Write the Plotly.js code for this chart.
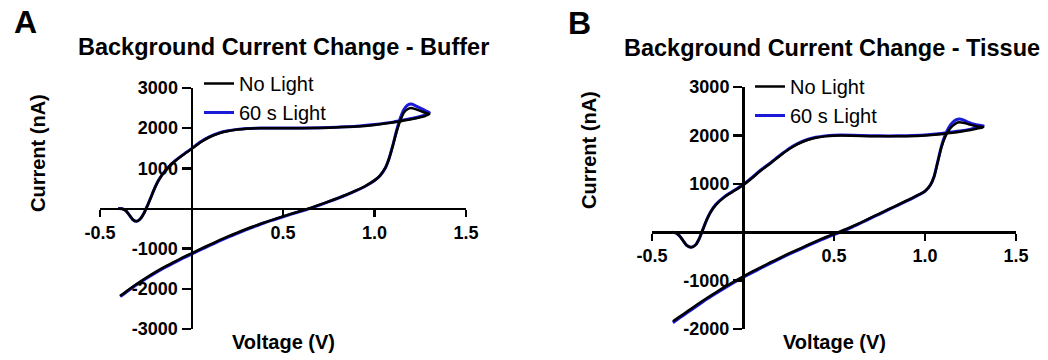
<!DOCTYPE html>
<html>
<head>
<meta charset="utf-8">
<script src="https://cdn.plot.ly/plotly-3.0.1.min.js"></script>
<style>html,body{margin:0;padding:0;background:#fff;}#chart{width:1048px;height:360px;}</style>
</head>
<body>
<div id="chart"></div>
<script>
// ---------- Data ----------
const seriesNames = ["No Light", "60 s Light"];

// Panel A – Buffer
const bufferVoltageNoLight = [
 -0.39,-0.35,-0.30,-0.25,-0.20,-0.15,-0.10,-0.05,0.00,0.05,0.10,0.15,0.20,0.25,0.30,0.35,0.40,0.45,0.50,0.55,0.60,0.65,0.70,0.75,0.80,0.85,0.90,0.95,1.00,1.03,1.06,1.08,1.10,1.12,1.14,1.16,1.18,1.20,1.22,1.25,1.28,1.30,
 1.28,1.25,1.20,1.15,1.10,1.00,0.90,0.80,0.70,0.60,0.50,0.40,0.35,0.30,0.25,0.20,0.15,0.10,0.05,0.00,-0.05,-0.10,-0.15,-0.18,-0.20,-0.22,-0.24,-0.26,-0.28,-0.30,-0.32,-0.34,-0.36,-0.38,-0.40];
const bufferCurrentNoLight = [
 -2175,-2040,-1880,-1730,-1590,-1460,-1340,-1225,-1115,-1005,-900,-795,-695,-600,-510,-425,-345,-270,-195,-125,-55,15,95,175,260,350,450,560,700,820,1020,1250,1560,1900,2180,2380,2470,2500,2480,2430,2380,2350,
 2310,2270,2220,2180,2140,2080,2040,2020,2005,2000,2000,2000,1995,1985,1965,1930,1870,1780,1650,1480,1320,1140,900,700,520,300,80,-120,-260,-320,-280,-160,-50,-5,0];
const bufferVoltageLight = [
 -0.39,-0.35,-0.30,-0.25,-0.20,-0.15,-0.10,-0.05,0.00,0.05,0.10,0.15,0.20,0.25,0.30,0.35,0.40,0.45,0.50,0.55,0.60,0.65,0.70,0.75,0.80,0.85,0.90,0.95,1.00,1.03,1.06,1.08,1.10,1.12,1.14,1.16,1.18,1.20,1.22,1.25,1.28,1.30,
 1.28,1.25,1.20,1.15,1.10,1.00,0.90,0.80,0.70,0.60,0.50,0.40,0.35,0.30,0.25,0.20,0.15,0.10,0.05,0.00,-0.05,-0.10,-0.15,-0.18,-0.20,-0.22,-0.24,-0.26,-0.28,-0.30,-0.32,-0.34,-0.36,-0.38,-0.40];
const bufferCurrentLight = [
 -2195,-2060,-1900,-1750,-1610,-1480,-1360,-1245,-1135,-1025,-920,-815,-715,-620,-525,-440,-355,-280,-205,-135,-65,5,85,170,255,345,445,555,695,815,1015,1250,1570,1930,2240,2460,2570,2600,2570,2500,2430,2390,
 2340,2290,2240,2195,2150,2090,2045,2025,2010,2005,2005,2005,2000,1990,1970,1935,1880,1790,1660,1490,1330,1150,905,705,520,300,80,-120,-260,-320,-280,-160,-50,-5,0];

// Panel B – Tissue
const tissueVoltageNoLight = [
 -0.385,-0.35,-0.30,-0.25,-0.20,-0.15,-0.10,-0.05,0.00,0.05,0.10,0.15,0.20,0.25,0.30,0.35,0.40,0.45,0.50,0.55,0.60,0.65,0.70,0.75,0.80,0.85,0.90,0.95,1.00,1.03,1.05,1.07,1.09,1.11,1.13,1.15,1.17,1.19,1.21,1.24,1.27,1.30,1.32,
 1.30,1.25,1.20,1.15,1.10,1.00,0.90,0.80,0.70,0.60,0.50,0.45,0.40,0.35,0.30,0.25,0.20,0.15,0.10,0.05,0.00,-0.05,-0.10,-0.15,-0.18,-0.20,-0.22,-0.24,-0.26,-0.285,-0.31,-0.33,-0.35,-0.37,-0.39];
const tissueCurrentNoLight = [
 -1840,-1750,-1620,-1490,-1365,-1245,-1130,-1020,-915,-815,-720,-625,-535,-445,-360,-275,-190,-110,-35,40,120,205,295,385,475,565,655,745,850,980,1150,1450,1750,1960,2100,2190,2250,2270,2260,2230,2200,2180,2170,
 2150,2110,2080,2055,2030,2000,1985,1980,1985,1995,1995,1980,1950,1900,1820,1710,1570,1420,1280,1120,970,850,730,560,400,250,60,-130,-260,-310,-270,-170,-70,-15,0];
const tissueVoltageLight = [
 -0.385,-0.35,-0.30,-0.25,-0.20,-0.15,-0.10,-0.05,0.00,0.05,0.10,0.15,0.20,0.25,0.30,0.35,0.40,0.45,0.50,0.55,0.60,0.65,0.70,0.75,0.80,0.85,0.90,0.95,1.00,1.03,1.05,1.07,1.09,1.11,1.13,1.15,1.17,1.19,1.21,1.24,1.27,1.30,1.32,
 1.30,1.25,1.20,1.15,1.10,1.00,0.90,0.80,0.70,0.60,0.50,0.45,0.40,0.35,0.30,0.25,0.20,0.15,0.10,0.05,0.00,-0.05,-0.10,-0.15,-0.18,-0.20,-0.22,-0.24,-0.26,-0.285,-0.31,-0.33,-0.35,-0.37,-0.39];
const tissueCurrentLight = [
 -1870,-1775,-1645,-1515,-1385,-1265,-1150,-1040,-935,-835,-740,-645,-550,-460,-375,-290,-205,-125,-50,25,105,195,285,375,465,555,645,740,845,975,1150,1460,1770,2000,2160,2260,2320,2340,2320,2270,2230,2210,2200,
 2175,2130,2095,2070,2045,2010,1995,1990,1995,2005,2005,1990,1960,1910,1830,1720,1580,1430,1290,1130,980,860,740,570,405,250,60,-130,-260,-310,-270,-170,-70,-15,0];

const xTickVals = [-0.5, 0.5, 1.0, 1.5];
const xTickText = ["-0.5", "0.5", "1.0", "1.5"];
const yTickValsA = [-3000, -2000, -1000, 1000, 2000, 3000];
const yTickValsB = [-2000, -1000, 1000, 2000, 3000];

// ---------- Layout helpers ----------
const W = 1048, H = 360;
const px = x => x / W;
const py = y => 1 - y / H;
const FONT = "Liberation Sans, Arial, Helvetica, sans-serif";
const BLUE = "#1a1ad8";

function lineTrace(x, y, name, color, width, xa, ya, legend, rank) {
  return {x: x, y: y, name: name, type: "scatter", mode: "lines",
    line: {color: color, width: width, shape: "spline", smoothing: 0.6},
    xaxis: xa, yaxis: ya, legend: legend, legendrank: rank, hoverinfo: "skip"};
}

const data = [
  lineTrace(bufferVoltageLight, bufferCurrentLight, seriesNames[1], BLUE, 3, "x", "y", "legend", 2),
  lineTrace(bufferVoltageNoLight, bufferCurrentNoLight, seriesNames[0], "#000", 2.5, "x", "y", "legend", 1),
  lineTrace(tissueVoltageLight, tissueCurrentLight, seriesNames[1], BLUE, 3, "x2", "y2", "legend2", 2),
  lineTrace(tissueVoltageNoLight, tissueCurrentNoLight, seriesNames[0], "#000", 2.5, "x2", "y2", "legend2", 1)
];

// plot areas in pixels
const A = {x0: 100, x1: 466, y0: 88, y1: 329, ymin: -3000, ymax: 3000};
const B = {x0: 652, x1: 1016, y0: 87, y1: 329, ymin: -2000, ymax: 3000};

function axisX(P) {
  const frac0 = (0 - P.ymin) / (P.ymax - P.ymin);
  const d0 = py(P.y1), d1 = py(P.y0);
  return {domain: [px(P.x0), px(P.x1)], range: [-0.5, 1.5], anchor: "free",
    position: d0 + frac0 * (d1 - d0),
    showgrid: false, zeroline: false, showline: true, linecolor: "#000", linewidth: 2.5,
    ticks: "outside", ticklen: 7, tickwidth: 2.5, tickcolor: "#000",
    tickvals: xTickVals, ticktext: xTickText,
    tickfont: {family: FONT, size: 18, color: "#000", weight: "bold"}, fixedrange: true};
}
function axisY(P, tickVals) {
  const fx = (0 - (-0.5)) / 2.0;
  const d0 = px(P.x0), d1 = px(P.x1);
  return {domain: [py(P.y1), py(P.y0)], range: [P.ymin, P.ymax], anchor: "free",
    position: d0 + fx * (d1 - d0),
    showgrid: false, zeroline: false, showline: true, linecolor: "#000", linewidth: 2.5,
    ticks: "outside", ticklen: 9, tickwidth: 2.5, tickcolor: "#000",
    tickvals: tickVals, ticktext: tickVals.map(String),
    tickfont: {family: FONT, size: 18, color: "#000", weight: "bold"}, fixedrange: true};
}

function ann(text, x, y, size, opts) {
  return Object.assign({text: text, x: px(x), y: py(y), xref: "paper", yref: "paper",
    xanchor: "center", yanchor: "middle", showarrow: false,
    font: {family: FONT, size: size, color: "#000", weight: "bold"}}, opts || {});
}

const legendBase = {
  font: {family: FONT, size: 20, color: "#000"}, bgcolor: "rgba(0,0,0,0)",
  xanchor: "left", yanchor: "top", traceorder: "normal", itemwidth: 30,
  tracegroupgap: 0
};

const layout = {
  width: W, height: H, margin: {l: 0, r: 0, t: 0, b: 0},
  paper_bgcolor: "#fff", plot_bgcolor: "rgba(0,0,0,0)",
  showlegend: true,
  xaxis: axisX(A), yaxis: axisY(A, yTickValsA),
  xaxis2: axisX(B), yaxis2: axisY(B, yTickValsB),
  legend: Object.assign({x: px(199), y: py(64)}, legendBase),
  legend2: Object.assign({x: px(750), y: py(67)}, legendBase),
  annotations: [
    ann("A", 25, 22, 32),
    ann("B", 579, 23, 32),
    ann("Background Current Change - Buffer", 283, 47, 23.5),
    ann("Background Current Change - Tissue", 832, 48, 23.5),
    ann("Current (nA)", 38, 153, 20, {textangle: -90}),
    ann("Current (nA)", 589, 150, 20, {textangle: -90}),
    ann("Voltage (V)", 283, 342, 20),
    ann("Voltage (V)", 834, 342, 20)
  ]
};

Plotly.newPlot("chart", data, layout, {staticPlot: true, displayModeBar: false});
</script>
</body>
</html>
